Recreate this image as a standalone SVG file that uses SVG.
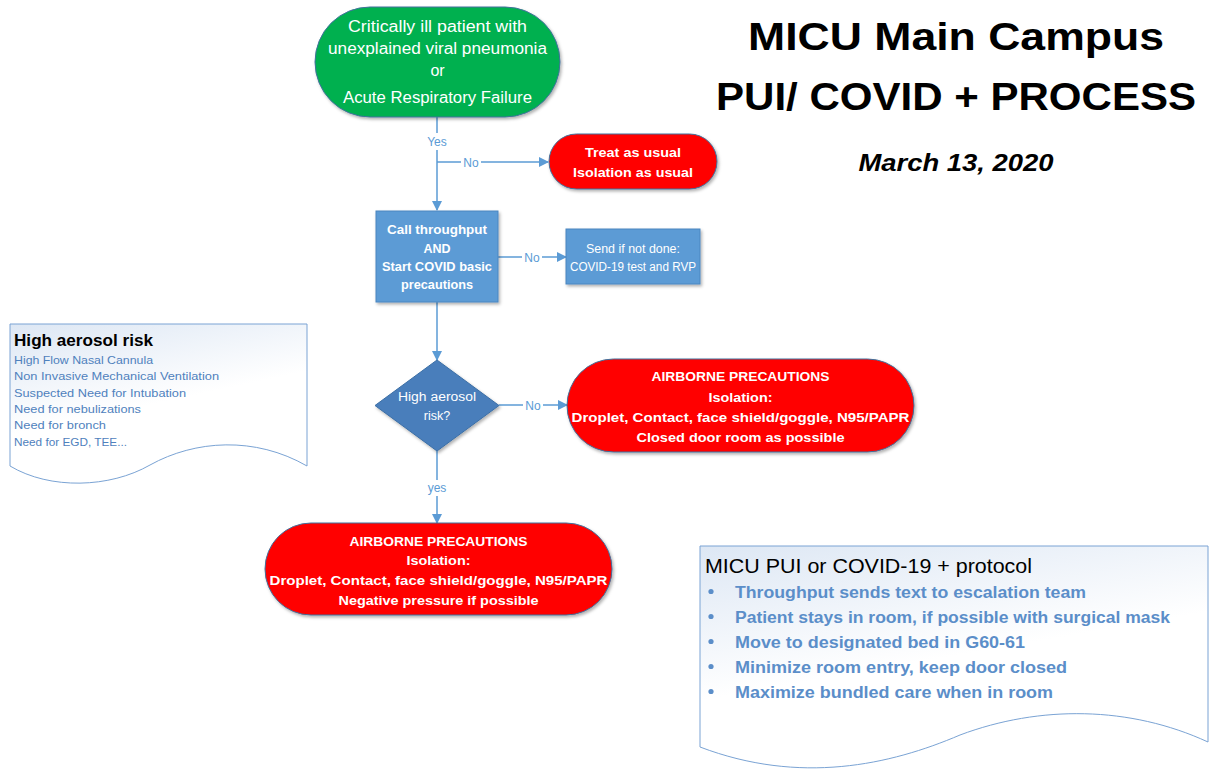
<svg xmlns="http://www.w3.org/2000/svg" width="1209" height="774" viewBox="0 0 1209 774">
<style>
text{font-family:"Liberation Sans",Arial,sans-serif;}
.w{fill:#ffffff;font-weight:bold;text-anchor:middle;}
.wn{fill:#ffffff;text-anchor:middle;}
.lbl{fill:#5b9bd5;font-size:12px;text-anchor:middle;}
.conn{stroke:#5b9bd5;stroke-width:1.5;fill:none;}
.list{fill:#4f81bd;font-size:11.5px;}
.blist{fill:#5b8ec9;font-size:16px;font-weight:bold;}
.ttl{fill:#000000;font-weight:bold;text-anchor:middle;}
</style>
<defs>
<marker id="arr" markerWidth="10" markerHeight="10" refX="9" refY="5" orient="auto" markerUnits="userSpaceOnUse">
<path d="M0,0 L10,5 L0,10 Z" fill="#5b9bd5"/>
</marker>
<filter id="sh" x="-10%" y="-10%" width="130%" height="140%">
<feDropShadow dx="1.5" dy="2" stdDeviation="1.5" flood-color="#000" flood-opacity="0.3"/>
</filter>
<linearGradient id="doc" x1="0" y1="0" x2="0.4" y2="1">
<stop offset="0" stop-color="#dde7f4"/>
<stop offset="0.6" stop-color="#ffffff"/>
<stop offset="1" stop-color="#ffffff"/>
</linearGradient>
</defs>
<rect width="1209" height="774" fill="#ffffff"/>

<g id="title">
<text class="ttl" x="956" y="50" font-size="39" textLength="416" lengthAdjust="spacingAndGlyphs">MICU Main Campus</text>
<text class="ttl" x="956" y="110" font-size="39" textLength="480" lengthAdjust="spacingAndGlyphs">PUI/ COVID + PROCESS</text>
<text class="ttl" x="956" y="171" font-size="23.5" font-style="italic" textLength="195" lengthAdjust="spacingAndGlyphs">March 13, 2020</text>
</g>

<g id="connectors">
<line class="conn" x1="437" y1="117" x2="437" y2="210" marker-end="url(#arr)"/>
<line class="conn" x1="437" y1="162" x2="548" y2="162" marker-end="url(#arr)"/>
<line class="conn" x1="498" y1="257" x2="566" y2="257" marker-end="url(#arr)"/>
<line class="conn" x1="437" y1="302" x2="437" y2="360" marker-end="url(#arr)"/>
<line class="conn" x1="499" y1="405" x2="567" y2="405" marker-end="url(#arr)"/>
<line class="conn" x1="437" y1="451" x2="437" y2="523" marker-end="url(#arr)"/>
<rect x="424" y="133" width="26" height="17" fill="#ffffff"/>
<text class="lbl" x="437" y="146">Yes</text>
<rect x="461" y="155" width="20" height="15" fill="#ffffff"/>
<text class="lbl" x="471" y="166.5">No</text>
<rect x="522" y="250" width="20" height="15" fill="#ffffff"/>
<text class="lbl" x="532" y="261.5">No</text>
<rect x="523" y="398" width="20" height="15" fill="#ffffff"/>
<text class="lbl" x="533" y="409.5">No</text>
<rect x="425" y="480" width="24" height="16" fill="#ffffff"/>
<text class="lbl" x="437" y="491.5">yes</text>
</g>

<g id="start">
<rect x="315" y="7" width="245" height="110" rx="55" ry="55" fill="#00b050" stroke="#41719c" stroke-width="1" filter="url(#sh)"/>
<text class="wn" x="437.5" y="32" font-size="16" textLength="179" lengthAdjust="spacingAndGlyphs">Critically ill patient with</text>
<text class="wn" x="437.5" y="54" font-size="16" textLength="219" lengthAdjust="spacingAndGlyphs">unexplained viral pneumonia</text>
<text class="wn" x="437.5" y="76" font-size="16">or</text>
<text class="wn" x="437.5" y="103" font-size="16" textLength="189" lengthAdjust="spacingAndGlyphs">Acute Respiratory Failure</text>
</g>

<g id="treat-usual">
<rect x="549" y="134" width="168" height="55" rx="27.5" ry="27.5" fill="#ff0000" stroke="#41719c" stroke-width="1" filter="url(#sh)"/>
<text class="w" x="633" y="157" font-size="13.5" textLength="96" lengthAdjust="spacingAndGlyphs">Treat as usual</text>
<text class="w" x="633" y="177" font-size="13.5" textLength="120" lengthAdjust="spacingAndGlyphs">Isolation as usual</text>
</g>

<g id="call-throughput">
<rect x="376" y="211" width="122" height="91" fill="#5b9bd5" stroke="#4a86c0" stroke-width="1" filter="url(#sh)"/>
<text class="w" x="437" y="234" font-size="12.5" textLength="100" lengthAdjust="spacingAndGlyphs">Call throughput</text>
<text class="w" x="437" y="252.5" font-size="12.5">AND</text>
<text class="w" x="437" y="271" font-size="12.5" textLength="110" lengthAdjust="spacingAndGlyphs">Start COVID basic</text>
<text class="w" x="437" y="289" font-size="12.5" textLength="72" lengthAdjust="spacingAndGlyphs">precautions</text>
</g>

<g id="send-test">
<rect x="566" y="229" width="134" height="55" fill="#5b9bd5" stroke="#4a86c0" stroke-width="1" filter="url(#sh)"/>
<text class="wn" x="633" y="253" font-size="12" textLength="94" lengthAdjust="spacingAndGlyphs">Send if not done:</text>
<text class="wn" x="633" y="270.5" font-size="12" textLength="126" lengthAdjust="spacingAndGlyphs">COVID-19 test and RVP</text>
</g>

<g id="decision">
<polygon points="437,360 499,405.5 437,451 375,405.5" fill="#4a7ebb" stroke="#3a6ea5" stroke-width="1" filter="url(#sh)"/>
<text class="wn" x="437" y="401" font-size="12.5" textLength="78" lengthAdjust="spacingAndGlyphs">High aerosol</text>
<text class="wn" x="437" y="420" font-size="12.5">risk?</text>
</g>

<g id="airborne-closed">
<rect x="567" y="359" width="347" height="93" rx="46.5" ry="46.5" fill="#ff0000" stroke="#41719c" stroke-width="1" filter="url(#sh)"/>
<text class="w" x="740.5" y="381" font-size="13.5" textLength="178" lengthAdjust="spacingAndGlyphs">AIRBORNE PRECAUTIONS</text>
<text class="w" x="740.5" y="402" font-size="13.5" textLength="64" lengthAdjust="spacingAndGlyphs">Isolation:</text>
<text class="w" x="740.5" y="422" font-size="13.5" textLength="338" lengthAdjust="spacingAndGlyphs">Droplet, Contact, face shield/goggle, N95/PAPR</text>
<text class="w" x="740.5" y="442" font-size="13.5" textLength="208" lengthAdjust="spacingAndGlyphs">Closed door room as possible</text>
</g>

<g id="airborne-negative">
<rect x="265" y="523" width="347" height="92" rx="46" ry="46" fill="#ff0000" stroke="#41719c" stroke-width="1" filter="url(#sh)"/>
<text class="w" x="438.5" y="545.5" font-size="13.5" textLength="178" lengthAdjust="spacingAndGlyphs">AIRBORNE PRECAUTIONS</text>
<text class="w" x="438.5" y="565" font-size="13.5" textLength="64" lengthAdjust="spacingAndGlyphs">Isolation:</text>
<text class="w" x="438.5" y="585" font-size="13.5" textLength="338" lengthAdjust="spacingAndGlyphs">Droplet, Contact, face shield/goggle, N95/PAPR</text>
<text class="w" x="438.5" y="604.5" font-size="13.5" textLength="200" lengthAdjust="spacingAndGlyphs">Negative pressure if possible</text>
</g>

<g id="aerosol-note">
<path d="M10,324 H307 V466 C255,436 195,440 150,465 C110,488 50,490 10,466 Z" fill="url(#doc)" stroke="#7aa3d4" stroke-width="1"/>
<text x="14" y="346" font-size="16.5" font-weight="bold" fill="#000" textLength="139" lengthAdjust="spacingAndGlyphs">High aerosol risk</text>
<text class="list" x="14" y="364" textLength="139" lengthAdjust="spacingAndGlyphs">High Flow Nasal Cannula</text>
<text class="list" x="14" y="380" textLength="205" lengthAdjust="spacingAndGlyphs">Non Invasive Mechanical Ventilation</text>
<text class="list" x="14" y="397" textLength="172" lengthAdjust="spacingAndGlyphs">Suspected Need for Intubation</text>
<text class="list" x="14" y="413" textLength="127" lengthAdjust="spacingAndGlyphs">Need for nebulizations</text>
<text class="list" x="14" y="429" textLength="92" lengthAdjust="spacingAndGlyphs">Need for bronch</text>
<text class="list" x="14" y="446" textLength="113" lengthAdjust="spacingAndGlyphs">Need for EGD, TEE...</text>
</g>

<g id="protocol-note">
<path d="M700,546 H1208 V742 C1130,706 1040,705 960,735 C890,765 800,785 700,747 Z" fill="url(#doc)" stroke="#7aa3d4" stroke-width="1"/>
<text x="705" y="572.5" font-size="19.5" fill="#000" textLength="327" lengthAdjust="spacingAndGlyphs">MICU PUI or COVID-19 + protocol</text>
<g fill="#5b8ec9">
<circle cx="711" cy="591.5" r="2.6"/>
<circle cx="711" cy="616.5" r="2.6"/>
<circle cx="711" cy="641.5" r="2.6"/>
<circle cx="711" cy="666.5" r="2.6"/>
<circle cx="711" cy="691.5" r="2.6"/>
</g>
<text class="blist" x="735" y="597.5" textLength="351" lengthAdjust="spacingAndGlyphs">Throughput sends text to escalation team</text>
<text class="blist" x="735" y="622.5" textLength="435" lengthAdjust="spacingAndGlyphs">Patient stays in room, if possible with surgical mask</text>
<text class="blist" x="735" y="647.5" textLength="290" lengthAdjust="spacingAndGlyphs">Move to designated bed in G60-61</text>
<text class="blist" x="735" y="672.5" textLength="332" lengthAdjust="spacingAndGlyphs">Minimize room entry, keep door closed</text>
<text class="blist" x="735" y="697.5" textLength="318" lengthAdjust="spacingAndGlyphs">Maximize bundled care when in room</text>
</g>
</svg>
